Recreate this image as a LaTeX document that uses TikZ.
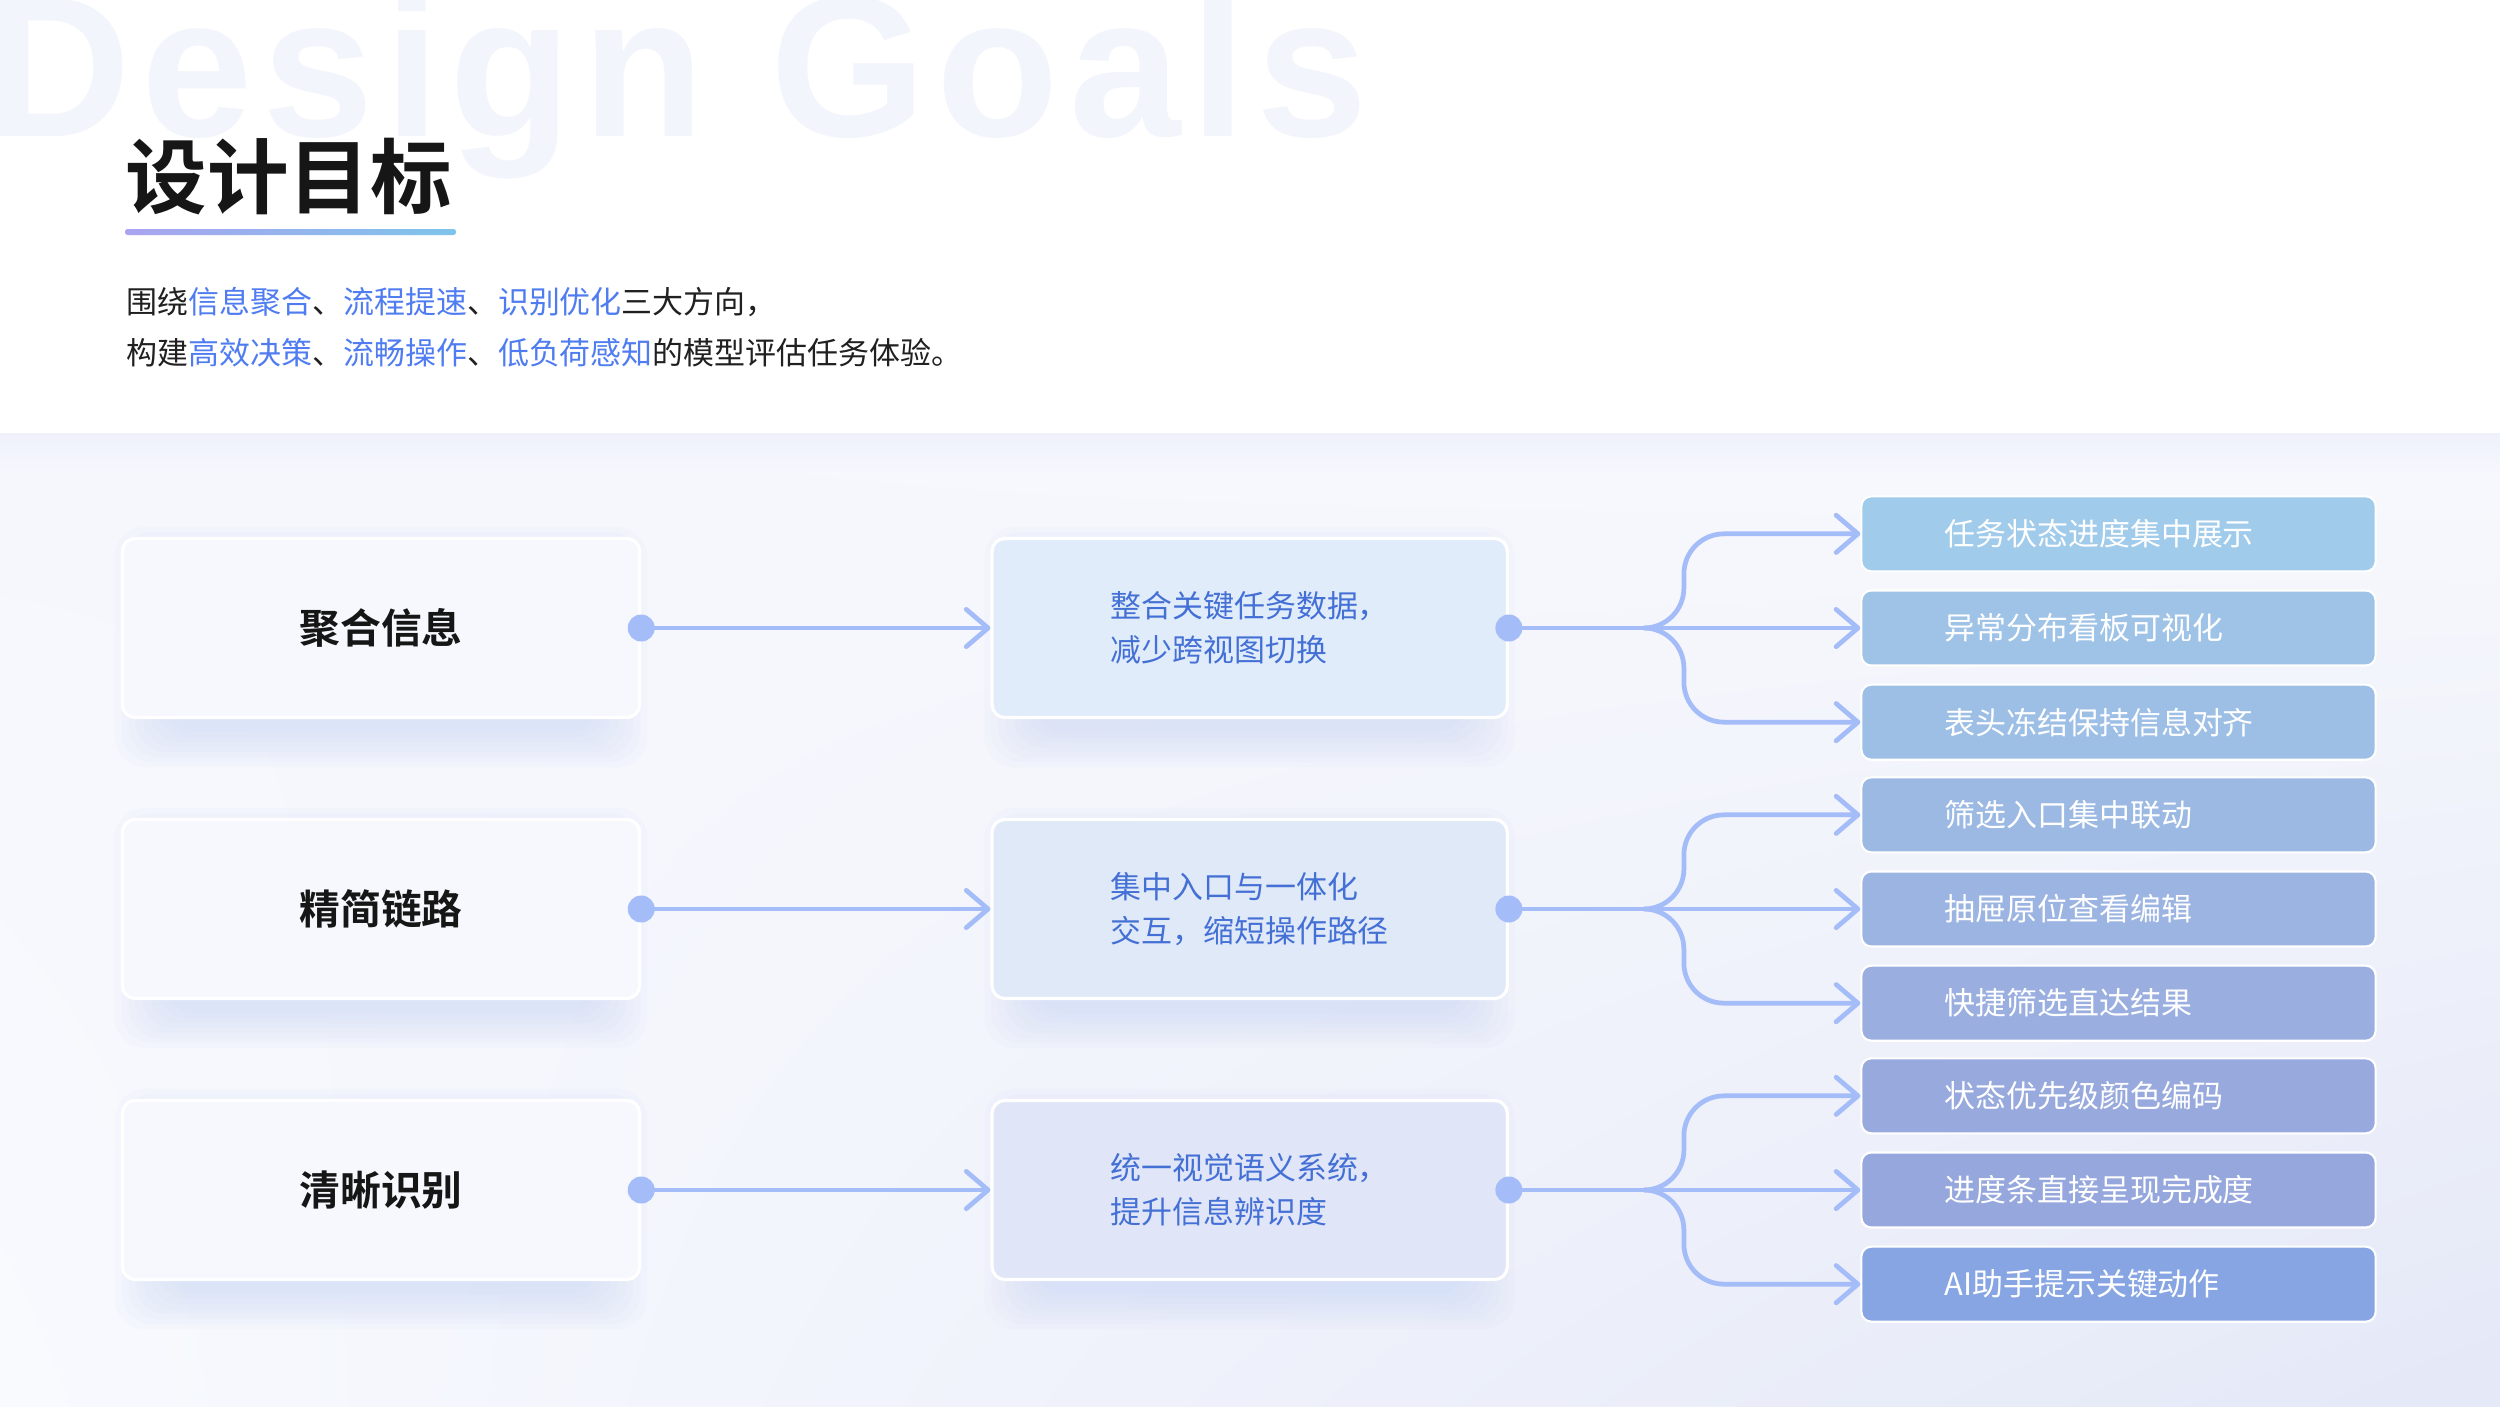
\documentclass[tikz,border=0pt]{standalone}
\usepackage{fontspec}
\setmainfont{Noto Sans CJK SC}[BoldFont={Noto Sans CJK SC Bold}]
\newfontfamily\ghostfont{Liberation Sans}[LetterSpace=5]
\usetikzlibrary{positioning,arrows.meta,calc,backgrounds,shadings}
\definecolor{Ghost}{HTML}{F2F5FB}
\definecolor{TitleInk}{HTML}{161616}
\definecolor{BodyInk}{HTML}{202020}
\definecolor{Accent}{HTML}{4F7CF0}
\definecolor{BarL}{HTML}{AAA4F0}
\definecolor{BarR}{HTML}{7EC4EA}
\definecolor{PageTL}{HTML}{F6F7FD}
\definecolor{PageTR}{HTML}{F8F9FD}
\definecolor{PageBL}{HTML}{F8FAFE}
\definecolor{PageBR}{HTML}{E4E8F7}
\definecolor{EdgeShade}{HTML}{EEF1FB}
\definecolor{Glow}{HTML}{9CB6F7}
\definecolor{GoalFill}{HTML}{F6F8FE}
\definecolor{HowInk}{HTML}{4470D6}
\definecolor{HowA}{HTML}{E0ECFA}
\definecolor{HowB}{HTML}{E0E9F8}
\definecolor{HowC}{HTML}{E0E6F7}
\definecolor{Wire}{HTML}{A4BCF8}
\definecolor{LeafA}{HTML}{A0CBEA}
\definecolor{LeafB}{HTML}{9EC3E6}
\definecolor{LeafC}{HTML}{9DBFE5}
\definecolor{LeafD}{HTML}{9CB9E3}
\definecolor{LeafE}{HTML}{9BB4E1}
\definecolor{LeafF}{HTML}{9AAFE0}
\definecolor{LeafG}{HTML}{98A9DD}
\definecolor{LeafH}{HTML}{95A7DC}
\definecolor{LeafI}{HTML}{87A5E3}
\newcommand{\hl}[1]{\textcolor{Accent}{#1}}

\begin{document}
\begin{tikzpicture}[
  x=0.01cm, y=-0.01cm,
  goal/.style={rectangle, draw=white, line width=0.9pt, rounded corners=0.13cm, fill=GoalFill, minimum width=5.17cm, minimum height=1.79cm, font=\bfseries\fontsize{11.6}{14}\selectfont, text=TitleInk},
  how/.style={rectangle, draw=white, line width=0.9pt, rounded corners=0.13cm, minimum width=5.15cm, minimum height=1.79cm, align=left, font=\fontsize{8.8}{12.5}\selectfont, text=HowInk},
  leaf/.style={rectangle, draw=white, line width=0.6pt, rounded corners=0.1cm, minimum width=5.14cm, minimum height=0.75cm, inner xsep=0pt, text width=3.48cm, align=left, font=\fontsize{8.8}{11}\selectfont, text=white},
  lead/.style={anchor=base west, inner sep=0pt, font=\fontsize{8.8}{12}\selectfont, text=BodyInk},
  dot/.style={circle, fill=Wire, inner sep=0pt, minimum size=0.27cm},
  stem/.style={draw=Wire, line width=1.35pt, line cap=round},
  wire/.style={stem, -{Straight Barb[length=6.2pt, width=10.6pt, round]}},
  glow/.style={fill=Glow, fill opacity=0.035, rounded corners=0.3cm}
]
\useasboundingbox (0,0) rectangle (2500,1406);
\clip (0,0) rectangle (2500,1406);

% header
\node[anchor=base west, inner sep=0pt, text=Ghost, font=\ghostfont\bfseries\fontsize{57}{57}\selectfont] (ghost) at (-14,136) {Design Goals};
\node[anchor=base west, inner sep=0pt, text=TitleInk, font=\bfseries\fontsize{23.2}{28}\selectfont] (title) at (125,207) {设计目标};
\shade[left color=BarL, right color=BarR, rounded corners=0.025cm] (125,229) rectangle (456,235);
\node[lead] (lead1) at (126,313) {围绕\hl{信息聚合}、\hl{流程提速}、\hl{识别优化}三大方向，};
\node[lead] (lead2) at (126,364) {构建\hl{高效决策}、\hl{流畅操作}、\hl{低负荷感知}的模型评估任务体验。};

% goals
\node[goal] (g1) at (381,628)  {聚合信息};
\node[goal] (g2) at (381,909)  {精简链路};
\node[goal] (g3) at (381,1190) {清晰识别};

\node[how, fill=HowA, right=3.49cm of g1] (h1) {整合关键任务数据，\\减少跨视图切换};
\node[how, fill=HowB, right=3.49cm of g2] (h2) {集中入口与一体化\\交互，缩短操作路径};
\node[how, fill=HowC, right=3.49cm of g3] (h3) {统一视觉语义系统，\\提升信息辨识度};

\node[dot] (gd1) at (g1.east) {};
\node[dot] (gd2) at (g2.east) {};
\node[dot] (gd3) at (g3.east) {};
\node[dot] (hd1) at (h1.east) {};
\node[dot] (hd2) at (h2.east) {};
\node[dot] (hd3) at (h3.east) {};

% outcomes
\node[leaf, fill=LeafB, right=3.37cm of hd1] (t2) {异常分布看板可视化};
\node[leaf, fill=LeafA, above=0.17cm of t2]  (t1) {任务状态进度集中展示};
\node[leaf, fill=LeafC, below=0.17cm of t2]  (t3) {表头冻结保持信息对齐};
\node[leaf, fill=LeafE, right=3.37cm of hd2] (t5) {抽屉原位查看编辑};
\node[leaf, fill=LeafD, above=0.17cm of t5]  (t4) {筛选入口集中联动};
\node[leaf, fill=LeafF, below=0.17cm of t5]  (t6) {快捷筛选直达结果};
\node[leaf, fill=LeafH, right=3.37cm of hd3] (t8) {进度条直接呈现完成度};
\node[leaf, fill=LeafG, above=0.17cm of t8]  (t7) {状态优先级颜色编码};
\node[leaf, fill=LeafI, below=0.17cm of t8]  (t9) {AI助手提示关键动作};

\coordinate (fork1) at ($(hd1)+(135,0)$);
\coordinate (fork2) at ($(hd2)+(135,0)$);
\coordinate (fork3) at ($(hd3)+(135,0)$);
\coordinate (bend1) at ($(fork1)+(40,0)$);
\coordinate (bend2) at ($(fork2)+(40,0)$);
\coordinate (bend3) at ($(fork3)+(40,0)$);

\draw[wire] (gd1.center) -- (h1.west);
\draw[wire] (gd2.center) -- (h2.west);
\draw[wire] (gd3.center) -- (h3.west);

\draw[stem] (hd1.center) -- (fork1);
\draw[wire] (fork1) -- (t2.west);
\draw[wire, rounded corners=0.4cm] (fork1) -| (bend1 |- t1.west) -- (t1.west);
\draw[wire, rounded corners=0.4cm] (fork1) -| (bend1 |- t3.west) -- (t3.west);

\draw[stem] (hd2.center) -- (fork2);
\draw[wire] (fork2) -- (t5.west);
\draw[wire, rounded corners=0.4cm] (fork2) -| (bend2 |- t4.west) -- (t4.west);
\draw[wire, rounded corners=0.4cm] (fork2) -| (bend2 |- t6.west) -- (t6.west);

\draw[stem] (hd3.center) -- (fork3);
\draw[wire] (fork3) -- (t8.west);
\draw[wire, rounded corners=0.4cm] (fork3) -| (bend3 |- t7.west) -- (t7.west);
\draw[wire, rounded corners=0.4cm] (fork3) -| (bend3 |- t9.west) -- (t9.west);

% page and soft shadows
\begin{scope}[on background layer]
  \fill[white] (0,0) rectangle (2500,433);
  \shade[upper left=PageTL, upper right=PageTR, lower left=PageBL, lower right=PageBR] (0,433) rectangle (2500,1406);
  \shade[top color=EdgeShade, bottom color=PageTL] (0,433) rectangle (2500,470);
  \foreach \b in {g1,g2,g3,h1,h2,h3}
    \foreach \k in {1,...,8}
      \fill[glow] ([shift={(50-7*\k,30-5*\k)}]\b.north west) rectangle ([shift={(-50+7*\k,8+5*\k)}]\b.south east);
\end{scope}
\end{tikzpicture}
\end{document}
